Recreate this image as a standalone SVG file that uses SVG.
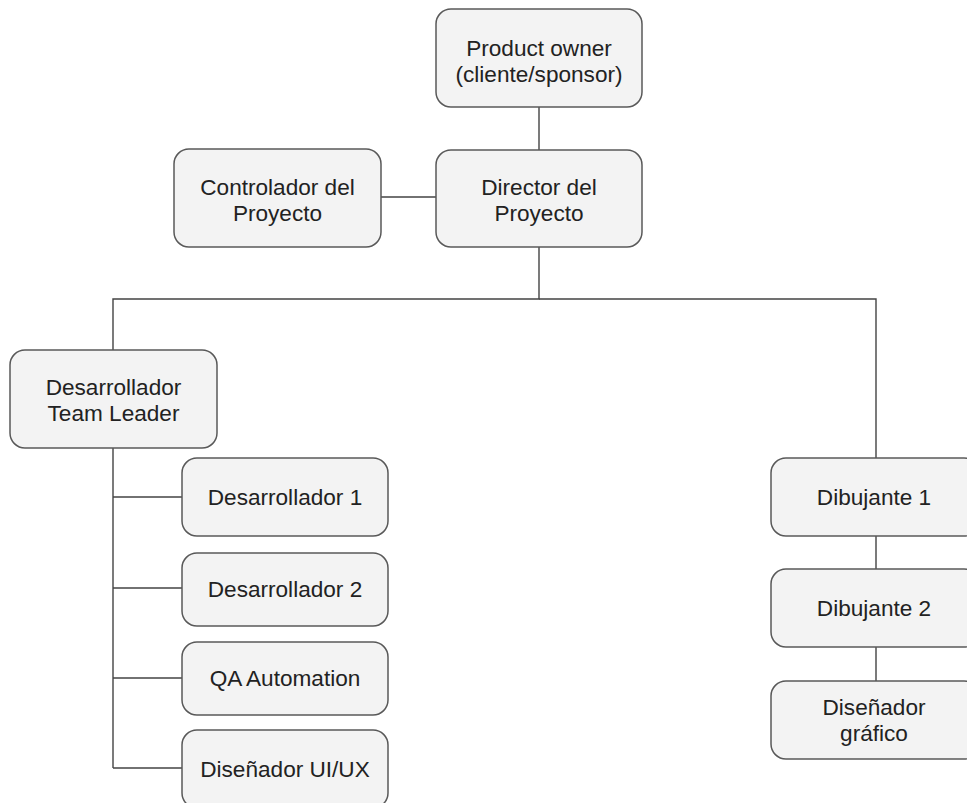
<svg xmlns="http://www.w3.org/2000/svg" width="967" height="803" viewBox="0 0 967 803">
  <style>
    .box { fill: #f3f3f3; stroke: #595959; stroke-width: 1.5; }
    .lbl { font-family: "Liberation Sans", Arial, sans-serif; font-size: 22.6px; fill: #222222; text-anchor: middle; }
    .wire { fill: none; stroke: #434343; stroke-width: 1.4; }
  </style>
  <rect width="967" height="803" fill="#ffffff"/>

  <!-- connectors -->
  <g id="connectors">
    <path class="wire" d="M539 107 V150"/>
    <path class="wire" d="M381 197 H436"/>
    <path class="wire" d="M539 247 V299 H113 V350"/>
    <path class="wire" d="M539 299 H876 V458"/>
    <path class="wire" d="M113 448 V768"/>
    <path class="wire" d="M113 497 H182"/>
    <path class="wire" d="M113 588 H182"/>
    <path class="wire" d="M113 678 H182"/>
    <path class="wire" d="M113 768 H182"/>
    <path class="wire" d="M876 536 V569"/>
    <path class="wire" d="M876 647 V681"/>
  </g>

  <g id="product-owner">
    <rect class="box" x="436" y="9" width="206" height="98" rx="15"/>
    <text class="lbl" x="539" y="56">Product owner</text>
    <text class="lbl" x="539" y="82">(cliente/sponsor)</text>
  </g>

  <g id="director">
    <rect class="box" x="436" y="150" width="206" height="97" rx="15"/>
    <text class="lbl" x="539" y="195">Director del</text>
    <text class="lbl" x="539" y="221">Proyecto</text>
  </g>

  <g id="controlador">
    <rect class="box" x="174" y="149" width="207" height="98" rx="15"/>
    <text class="lbl" x="277.5" y="195">Controlador del</text>
    <text class="lbl" x="277.5" y="221">Proyecto</text>
  </g>

  <g id="team-leader">
    <rect class="box" x="10" y="350" width="207" height="98" rx="15"/>
    <text class="lbl" x="113.5" y="395">Desarrollador</text>
    <text class="lbl" x="113.5" y="421">Team Leader</text>
  </g>

  <g id="desarrollador-1">
    <rect class="box" x="182" y="458" width="206" height="78" rx="15"/>
    <text class="lbl" x="285" y="505">Desarrollador 1</text>
  </g>

  <g id="desarrollador-2">
    <rect class="box" x="182" y="553" width="206" height="73" rx="15"/>
    <text class="lbl" x="285" y="597">Desarrollador 2</text>
  </g>

  <g id="qa-automation">
    <rect class="box" x="182" y="642" width="206" height="73" rx="15"/>
    <text class="lbl" x="285" y="686">QA Automation</text>
  </g>

  <g id="disenador-ui-ux">
    <rect class="box" x="182" y="730" width="206" height="78" rx="15"/>
    <text class="lbl" x="285" y="777">Diseñador UI/UX</text>
  </g>

  <g id="dibujante-1">
    <rect class="box" x="771" y="458" width="208" height="78" rx="15"/>
    <text class="lbl" x="874" y="505">Dibujante 1</text>
  </g>

  <g id="dibujante-2">
    <rect class="box" x="771" y="569" width="208" height="78" rx="15"/>
    <text class="lbl" x="874" y="616">Dibujante 2</text>
  </g>

  <g id="disenador-grafico">
    <rect class="box" x="771" y="681" width="208" height="78" rx="15"/>
    <text class="lbl" x="874" y="715">Diseñador</text>
    <text class="lbl" x="874" y="741">gráfico</text>
  </g>
</svg>
